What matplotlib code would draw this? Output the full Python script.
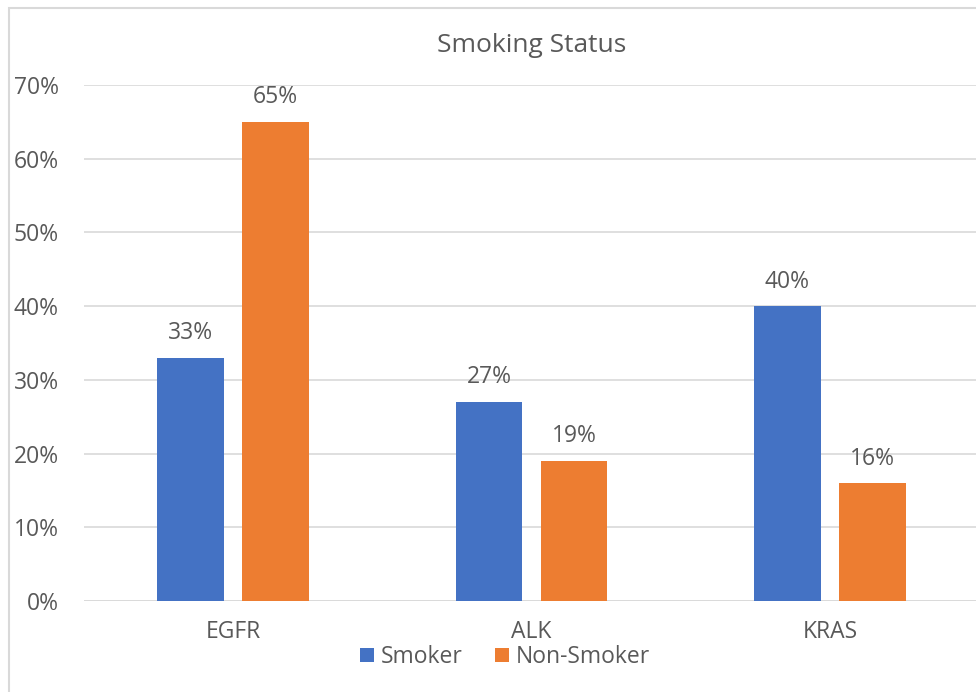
import matplotlib
matplotlib.use("Agg")
import matplotlib.pyplot as plt
from matplotlib.patches import Rectangle
import numpy as np

# data
genes = ["EGFR", "ALK", "KRAS"]
smoker = [0.33, 0.27, 0.40]
non_smoker = [0.65, 0.19, 0.16]
yticks = [0, 0.1, 0.2, 0.3, 0.4, 0.5, 0.6, 0.7]

plt.rcParams['font.family'] = ['Open Sans', 'DejaVu Sans']
txt = '#595959'

fig = plt.figure(figsize=(9.76, 6.92), dpi=100)
ax = fig.add_axes([84 / 976, 1 - 601 / 692, 1 - 84 / 976, (601 - 85) / 692])

# chart border (cropped on the right / bottom)
fig.patches.append(Rectangle((9 / 976, -0.01), 1.0, 1 - 8 / 692 + 0.01,
                             transform=fig.transFigure, fill=False,
                             edgecolor='#d9d9d9', linewidth=1.5))

x = np.arange(len(genes))
w = 0.224
off = 0.1425
b1 = ax.bar(x - off, smoker, w, color='#4472c4', label='Smoker', zorder=3)
b2 = ax.bar(x + off, non_smoker, w, color='#ed7d31', label='Non-Smoker', zorder=3)

for bars in (b1, b2):
    for r in bars:
        h = r.get_height()
        ax.annotate(f"{h:.0%}", (r.get_x() + r.get_width() / 2, h),
                    xytext=(0, 9), textcoords='offset points',
                    ha='center', va='bottom', fontsize=16.5, color=txt)

ax.set_xlim(-0.5, 2.49)
ax.set_ylim(0, 0.7)
ax.set_yticks(yticks)
ax.set_yticklabels([f"{t:.0%}" for t in yticks])
ax.set_xticks(x)
ax.set_xticklabels(genes)
ax.tick_params(length=0, labelsize=16.5, colors=txt)
ax.tick_params(axis='y', pad=18)
ax.tick_params(axis='x', pad=14)
ax.grid(axis='y', color='#d9d9d9', linewidth=1.2, zorder=0)
for s in ax.spines.values():
    s.set_visible(False)
ax.axhline(0, color='#d9d9d9', linewidth=1.2, zorder=2)

fig.text(532 / 976, 1 - 45 / 692, "Smoking Status", ha='center', va='center',
         fontsize=19, color=txt)

fig.legend(loc='center', bbox_to_anchor=(505 / 976, 1 - 657 / 692), ncol=2,
           frameon=False, fontsize=16.5, labelcolor=txt, handlelength=0.6,
           handleheight=0.6, handletextpad=0.3, columnspacing=1.4)

fig.savefig("out.png", dpi=100)
